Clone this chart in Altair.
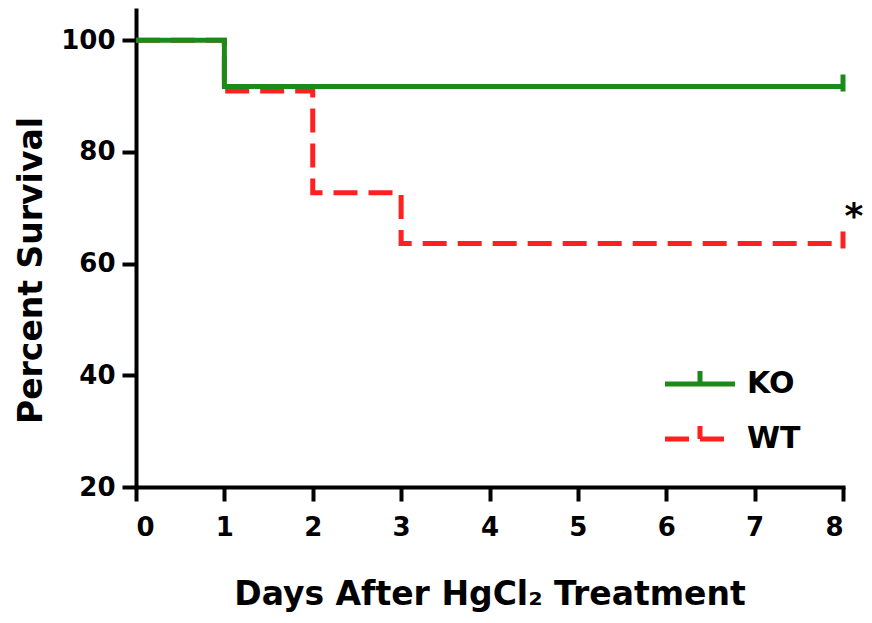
import altair as alt
import pandas as pd

# Data
groups = ["KO", "WT"]
days_ko = [0, 1, 8]
surv_ko = [100, 91.7, 91.7]
days_wt = [0, 1, 2, 3, 8]
surv_wt = [100, 90.9, 72.7, 63.6, 63.6]
censor_day = 8
x_ticks = [0, 1, 2, 3, 4, 5, 6, 7, 8]
y_ticks = [20, 40, 60, 80, 100]

GREEN = "#1b8a1b"
RED = "#ff2020"
FONT = "DejaVu Sans"

df = pd.DataFrame(
    {"day": days_ko + days_wt,
     "surv": surv_ko + surv_wt,
     "group": ["KO"] * len(days_ko) + ["WT"] * len(days_wt)}
)
cens = pd.DataFrame({"day": [censor_day, censor_day],
                     "surv": [surv_ko[-1], surv_wt[-1]],
                     "group": groups})

x = alt.X("day:Q",
          scale=alt.Scale(domain=[0, 8], nice=False, zero=False),
          axis=alt.Axis(values=x_ticks, title="Days After HgCl₂ Treatment",
                        format="d", titlePadding=38, labelPadding=13))
y = alt.Y("surv:Q",
          scale=alt.Scale(domain=[20, 105.4], nice=False, zero=False),
          axis=alt.Axis(values=y_ticks, title="Percent Survival",
                        titleY=260, titlePadding=12, labelPadding=7))

color = alt.Color("group:N",
                  scale=alt.Scale(domain=groups, range=[GREEN, RED]),
                  legend=alt.Legend(title=None, orient="none",
                                    legendX=544, legendY=354,
                                    symbolType="M-2,0H2M0,0V-0.75",
                                    symbolSize=1225, symbolStrokeWidth=5,
                                    labelFontSize=30, labelFont=FONT,
                                    labelFontWeight="bold", labelColor="black",
                                    labelOffset=27, rowPadding=16))
dash = alt.StrokeDash("group:N",
                      scale=alt.Scale(domain=groups, range=[[1, 0], [24, 11]]),
                      legend=None)

base = alt.Chart(df)
wt_line = base.transform_filter(alt.datum.group == "WT").mark_line(
    interpolate="step-after", strokeWidth=5).encode(x=x, y=y, color=color, strokeDash=dash)
ko_line = base.transform_filter(alt.datum.group == "KO").mark_line(
    interpolate="step-after", strokeWidth=5).encode(x=x, y=y, color=color, strokeDash=dash)

cbase = alt.Chart(cens)
wt_tick = cbase.transform_filter(alt.datum.group == "WT").mark_tick(
    orient="vertical", size=17, thickness=5, color=RED, yOffset=-3.5, opacity=1).encode(x=x, y=y)
ko_tick = cbase.transform_filter(alt.datum.group == "KO").mark_tick(
    orient="vertical", size=17, thickness=5, color=GREEN, yOffset=-3.5, opacity=1).encode(x=x, y=y)

star = cbase.transform_filter(alt.datum.group == "WT").mark_text(
    text="*", fontSize=36, font=FONT, fontWeight="bold", color="black",
    align="center", baseline="alphabetic", dx=11, dy=-15).encode(x=x, y=y)

chart = alt.layer(wt_line, ko_line, wt_tick, ko_tick, star).properties(
    width=707, height=477,
    autosize=alt.AutoSizeParams(type="none"),
    padding={"left": 128, "top": 2, "right": 21, "bottom": 128},
).configure_view(stroke=None).configure_axis(
    grid=False, domainColor="black", domainWidth=4, tickColor="black",
    tickWidth=4, tickSize=14, labelFont=FONT, labelFontWeight="bold",
    labelFontSize=26, labelColor="black", titleFont=FONT,
    titleFontWeight="bold", titleFontSize=33, titleColor="black",
    domainCap="square"
)

chart.save("out.html", embed_options={"renderer": "svg", "actions": False})
